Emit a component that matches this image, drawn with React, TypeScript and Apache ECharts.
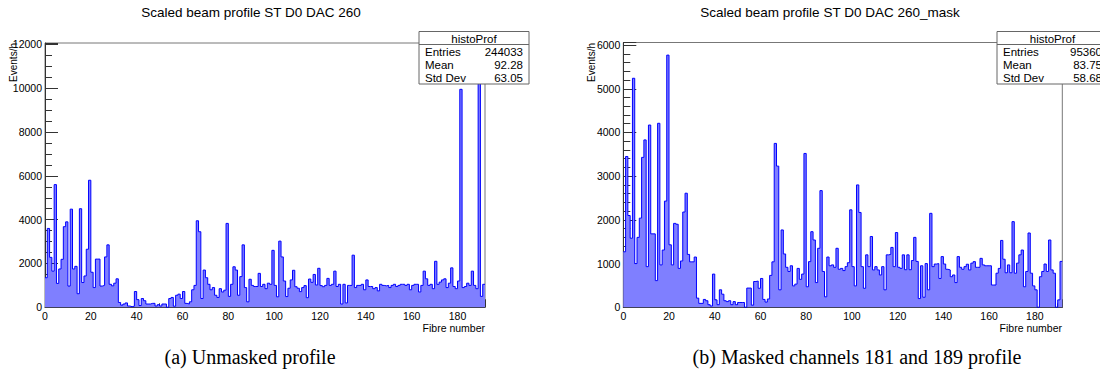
import React, { useEffect, useRef } from "react";
import * as echarts from "echarts";

// ---- data (events per bin, fibre 0..191) ----
const fibreUnmasked = [
  1350, 3600, 2280, 1650, 5600, 1090, 1750, 2190, 3680, 3900,
  970, 4480, 1750, 1870, 620, 4500, 1130, 1430, 2650, 5800,
  1600, 900, 2200, 2200, 970, 1000, 2300, 2850, 1050, 980,
  1100, 1300, 220, 100, 150, 200, 60, 30, 50, 720,
  350, 80, 400, 300, 150, 150, 180, 180, 60, 120,
  60, 150, 150, 0, 400, 450, 50, 550, 600, 400,
  720, 180, 150, 250, 800, 1000, 3950, 3450, 400, 1700,
  1350, 1050, 800, 900, 550, 450, 850, 700, 780, 3830,
  500, 1050, 1850, 1700, 550, 1400, 2850, 900, 250, 1280,
  1000, 950, 950, 1550, 950, 1050, 850, 1100, 1050, 2600,
  1000, 480, 3020, 2300, 1200, 490, 870, 1250, 1690, 940,
  870, 715, 900, 990, 440, 1290, 1140, 1500, 1020, 1780,
  990, 940, 1000, 1320, 1000, 1050, 1650, 950, 1050, 150,
  1050, 200, 1000, 1000, 2380, 900, 1000, 1000, 1050, 800,
  1250, 950, 950, 850, 900, 750, 1050, 1000, 980, 1000,
  900, 1000, 1050, 950, 1000, 1050, 1050, 1000, 1050, 800,
  1000, 1050, 1050, 700, 1000, 1650, 1300, 1000, 1050, 850,
  2100, 1050, 1150, 1250, 1300, 900, 1100, 1800, 950, 850,
  1200, 9950, 900, 950, 1100, 1000, 1650, 1000, 850, 11490,
  500, 1050,
];

const fibreMasked = [
  1270, 3450, 2100, 1580, 5240, 1000, 1600, 2040, 3430, 3830,
  930, 4170, 1680, 1680, 610, 4210, 970, 1310, 2430, 5770,
  1430, 970, 1920, 1900, 890, 1060, 2180, 2610, 1210, 1040,
  1040, 1150, 210, 90, 90, 180, 150, 60, 30, 760,
  170, 60, 400, 300, 150, 130, 150, 60, 130, 60,
  110, 110, 110, 0, 440, 440, 50, 590, 600, 435,
  660, 180, 120, 190, 730, 1040, 3750, 3230, 400, 1770,
  1220, 915, 820, 950, 490, 530, 890, 640, 760, 3520,
  470, 1045, 1730, 1540, 565, 1350, 2670, 820, 240, 1150,
  950, 970, 915, 1350, 870, 890, 840, 930, 1020, 2230,
  930, 490, 2800, 2170, 930, 435, 1200, 930, 1620, 855,
  930, 855, 740, 930, 400, 1200, 1210, 1370, 930, 1710,
  915, 890, 1200, 860, 1200, 860, 1070, 1600, 1050, 200,
  950, 230, 1000, 400, 2150, 930, 990, 1000, 660, 1160,
  990, 870, 855, 700, 740, 565, 1160, 915, 870, 930,
  985, 855, 1010, 1045, 915, 915, 1120, 970, 950, 950,
  950, 510, 510, 780, 890, 1530, 1100, 790, 970, 790,
  1960, 780, 1010, 1200, 1310, 470, 820, 1700, 780, 490,
  400, 0, 700, 820, 990, 820, 1540, 855, 780, 0,
  170, 1050,
];

const chartTitles = ["Scaled beam profile ST D0 DAC 260", "Scaled beam profile ST D0 DAC 260_mask"];
const captions = ["(a) Unmasked profile", "(b) Masked channels 181 and 189 profile"];
const statsName = "histoProf";
const statsLabels = ["Entries", "Mean", "Std Dev"];
const statsUnmasked = ["244033", "92.28", "63.05"];
const statsMasked = ["95360", "83.75", "58.68"];
const xTitle = "Fibre number";
const yTitle = "Events/h";

const NBINS = 192;
const SANS = "'Liberation Sans', Arial, Helvetica, sans-serif";
const SERIF = "'Liberation Serif', 'Times New Roman', serif";

const steps = (arr: number[]) =>
  arr.map((v, i) => [i, v]).concat([[arr.length, arr[arr.length - 1]]]);

export default function App() {
  const ref = useRef<HTMLDivElement>(null);

  useEffect(() => {
    if (!ref.current) return;
    const chart = echarts.init(ref.current, undefined, { renderer: "svg" });

    const axisColor = "#333";
    const mkX = (gi: number) => ({
      type: "value",
      gridIndex: gi,
      min: 0,
      max: NBINS,
      interval: 20,
      axisLine: { show: true, onZero: false, lineStyle: { color: axisColor, width: 1 } },
      axisTick: { show: true, inside: true, length: 8, lineStyle: { color: axisColor } },
      minorTick: { show: true, splitNumber: 2, length: 4, lineStyle: { color: axisColor } },
      splitLine: { show: false },
      axisLabel: {
        fontFamily: SANS,
        fontSize: 10.5,
        color: "#000",
        margin: 3,
        formatter: (v: number) => (v % 20 === 0 && v <= 180 ? String(v) : ""),
      },
    });
    const mkY = (gi: number, max: number, interval: number, minorSplit: number) => ({
      type: "value",
      gridIndex: gi,
      min: 0,
      max,
      interval,
      axisLine: { show: true, onZero: false, lineStyle: { color: axisColor, width: 1 } },
      axisTick: { show: true, inside: true, length: 13, lineStyle: { color: axisColor } },
      minorTick: { show: true, splitNumber: minorSplit, length: 7, lineStyle: { color: axisColor } },
      splitLine: { show: false },
      axisLabel: {
        fontFamily: SANS,
        fontSize: 10.5,
        color: "#000",
        margin: 3,
        formatter: (v: number) => (v % interval === 0 ? String(v) : ""),
      },
    });

    const maxL = Math.max(...fibreUnmasked) * 1.05;
    const maxR = Math.max(...fibreMasked) * 1.05;

    const histSeries = (idx: number, data: number[]) => ({
      type: "line",
      xAxisIndex: idx,
      yAxisIndex: idx,
      step: "end",
      symbol: "none",
      data: steps(data),
      lineStyle: { color: "#0000ff", width: 1 },
      areaStyle: { color: "#7f7fff", opacity: 1 },
      silent: true,
    });

    const statsBox = (x: number, w: number, values: string[]) => {
      const els: any[] = [
        {
          type: "rect",
          z: 100,
          shape: { x, y: 31.5, width: w, height: 52.5 },
          style: { fill: "#fff", stroke: "#666", lineWidth: 1 },
        },
        {
          type: "line",
          z: 101,
          shape: { x1: x, y1: 44.5, x2: x + w, y2: 44.5 },
          style: { stroke: "#666", lineWidth: 1 },
        },
        {
          type: "text",
          z: 101,
          x: x + w / 2,
          y: 38.5,
          style: { text: statsName, fontFamily: SANS, fontSize: 11.5, fill: "#000", align: "center", verticalAlign: "middle" },
        },
      ];
      const rowsY = [51.5, 64.8, 78];
      statsLabels.forEach((lab, i) => {
        els.push({
          type: "text",
          z: 101,
          x: x + 6,
          y: rowsY[i],
          style: { text: lab, fontFamily: SANS, fontSize: 11.5, fill: "#000", align: "left", verticalAlign: "middle" },
        });
        els.push({
          type: "text",
          z: 101,
          x: x + w - 6,
          y: rowsY[i],
          style: { text: values[i], fontFamily: SANS, fontSize: 11.5, fill: "#000", align: "right", verticalAlign: "middle" },
        });
      });
      return els;
    };

    const textEl = (x: number, y: number, text: string, opts: any = {}) => ({
      type: "text",
      z: 100,
      x,
      y,
      rotation: opts.rotation || 0,
      style: {
        text,
        fontFamily: opts.fontFamily || SANS,
        fontSize: opts.fontSize || 10.5,
        fill: "#000",
        align: opts.align || "center",
        verticalAlign: "middle",
      },
    });

    chart.setOption({
      animation: false,
      backgroundColor: "#fff",
      grid: [
        { left: 45, top: 43, width: 440, height: 264.3, show: true, borderColor: "#777", borderWidth: 1, containLabel: false },
        { left: 623.3, top: 42.5, width: 439, height: 264.8, show: true, borderColor: "#777", borderWidth: 1, containLabel: false },
      ],
      xAxis: [mkX(0), mkX(1)],
      yAxis: [mkY(0, maxL, 2000, 4), mkY(1, maxR, 1000, 5)],
      series: [histSeries(0, fibreUnmasked), histSeries(1, fibreMasked)],
      graphic: [
        textEl(251, 12, chartTitles[0], { fontSize: 13.5 }),
        textEl(830, 12, chartTitles[1], { fontSize: 13.5 }),
        textEl(485, 328, xTitle, { align: "right" }),
        textEl(1062, 328, xTitle, { align: "right" }),
        textEl(13, 43, yTitle, { align: "right", rotation: Math.PI / 2, fontSize: 10 }),
        textEl(591.5, 43, yTitle, { align: "right", rotation: Math.PI / 2, fontSize: 10 }),
        ...statsBox(419, 110, statsUnmasked),
        ...statsBox(997, 111, statsMasked),
        textEl(250, 357, captions[0], { fontFamily: SERIF, fontSize: 20 }),
        textEl(857, 357, captions[1], { fontFamily: SERIF, fontSize: 20 }),
      ],
    });

    return () => chart.dispose();
  }, []);

  return (
    <div
      ref={ref}
      style={{ position: "fixed", left: 0, top: 0, width: 1100, height: 374, background: "#fff" }}
    />
  );
}
